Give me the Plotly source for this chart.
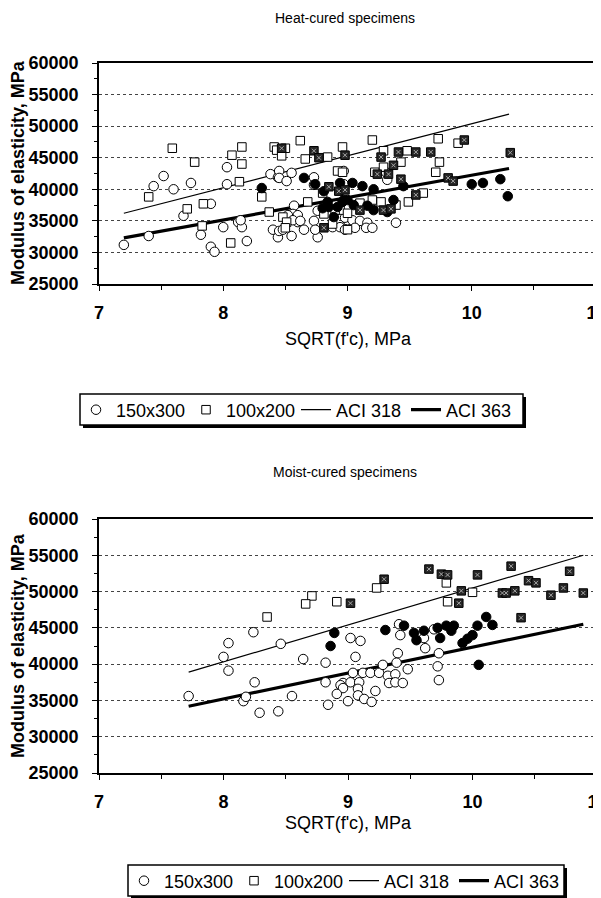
import plotly.graph_objects as go

# ---------------- data ----------------
# Heat-cured specimens
heat_150_open_x = [7.20, 7.40, 7.44, 7.52, 7.60, 7.68, 7.74, 7.82, 7.90, 7.90, 7.93, 8.00, 8.03, 8.03,
                   8.12, 8.15, 8.19, 8.14, 8.38, 8.40, 8.44, 8.44, 8.45, 8.45, 8.45, 8.51, 8.55, 8.55,
                   8.57, 8.56, 8.60, 8.60, 8.52, 8.56, 8.62, 8.73, 8.48, 8.65, 8.76, 8.74, 8.88, 8.94,
                   9.00, 8.76, 8.73, 8.73, 8.97, 8.98, 9.04, 9.10, 9.16, 8.98, 9.06, 9.15, 9.20, 9.39,
                   9.32, 9.31, 8.97]
heat_150_open_y = [31200, 32600, 40500, 42100, 40000, 35800, 41000, 32800, 37700, 30900, 30100, 34000, 40800, 43500,
                   34800, 34000, 31800, 35100, 42400, 33600, 32400, 41900, 33400, 42900, 41800, 41300, 42600, 32600,
                   37400, 36100, 34800, 35900, 35900, 35100, 35000, 35000, 33600, 33600, 32400, 33600, 34000, 34000,
                   35100, 36600, 41900, 40700, 42900, 35500, 35100, 35000, 34700, 33600, 33900, 33900, 33900, 34700,
                   41500, 42700, 40800]

heat_150_fill_x = [8.31, 8.65, 8.74, 8.81, 8.85, 8.96, 9.00, 8.92, 8.84, 8.89, 8.80, 9.04, 9.12, 9.21,
                   9.37, 9.45, 8.97, 9.05, 9.16, 9.21, 9.32, 10.00, 10.09, 10.23, 10.29, 8.94]
heat_150_fill_y = [40200, 41800, 40800, 39700, 37200, 38000, 38300, 37200, 38000, 35600, 37000, 41000, 40500, 40000,
                   38300, 40500, 38300, 37500, 37400, 36700, 36400, 40800, 41000, 41600, 38900, 41000]

heat_100_open_x = [7.59, 7.40, 7.77, 7.71, 7.84, 7.83, 8.07, 8.15, 8.15, 8.13, 8.06, 8.31, 8.37, 8.41,
                   8.43, 8.50, 8.47, 8.48, 8.51, 8.62, 8.66, 8.84, 8.96, 8.92, 8.80, 8.94, 9.00, 8.90,
                   8.68, 8.81, 8.50, 8.88, 9.00, 9.20, 9.29, 9.73, 9.89, 9.74, 9.71, 9.48, 9.43, 9.22,
                   9.61, 9.49, 9.20, 9.27, 8.96, 9.29, 9.10, 9.39]
heat_100_open_y = [46500, 38800, 44300, 36900, 37700, 34200, 45400, 46700, 44000, 41200, 31500, 38800, 36400, 46700,
                   46200, 46500, 45300, 35600, 34800, 47700, 44800, 45100, 46700, 42900, 39400, 36700, 36200, 36700,
                   38000, 36100, 33900, 34500, 33600, 47800, 46100, 48000, 47300, 44300, 42700, 46100, 44300, 42700,
                   39400, 38000, 38300, 38000, 42700, 43500, 37800, 37500]

heat_100_hatch_x = [8.47, 8.73, 8.98, 8.77, 8.85, 8.93, 8.81, 9.94, 9.41, 9.55, 9.67, 9.27, 9.37, 9.24,
                    9.33, 9.43, 9.81, 9.85, 8.98, 9.55, 9.29, 9.35, 9.10, 10.31]
heat_100_hatch_y = [46500, 46100, 45400, 45000, 40400, 39700, 33900, 47800, 45900, 45900, 45900, 45100, 43800, 42400,
                    42400, 41600, 41800, 41300, 39900, 39100, 36700, 36900, 36700, 45800]

heat_aci318_x = [7.20, 10.30]
heat_aci318_y = [36200, 51900]
heat_aci363_x = [7.20, 10.30]
heat_aci363_y = [32300, 43300]

# Moist-cured specimens
moist_150_open_x = [7.72, 8.00, 8.04, 8.04, 8.24, 8.25, 8.16, 8.18, 8.29, 8.44, 8.46, 8.55, 9.41, 9.42,
                    9.02, 9.10, 9.61, 9.69, 9.62, 9.73, 9.72, 9.73, 9.40, 9.39, 9.06, 8.82, 8.64, 8.82,
                    8.96, 9.02, 9.09, 9.04, 9.12, 9.18, 9.25, 9.32, 9.38, 9.33, 9.38, 9.44, 9.48, 9.28,
                    8.94, 8.96, 9.08, 8.91, 9.08, 9.22, 8.84, 9.00, 9.13, 9.19]
moist_150_open_y = [35600, 41000, 42900, 39100, 44400, 37500, 34900, 35500, 33300, 33500, 42800, 35600, 45500, 44000,
                    43600, 43200, 43600, 44800, 42200, 41500, 39700, 37800, 41500, 40200, 41000, 40200, 40700, 37500,
                    37400, 37500, 37500, 38800, 38800, 38800, 38800, 38400, 38600, 37400, 37500, 37400, 39300, 39900,
                    37100, 36700, 36600, 35900, 35700, 36300, 34400, 34900, 35200, 34800]

moist_150_fill_x = [8.89, 8.86, 9.30, 9.45, 9.53, 9.55, 9.61, 9.72, 9.74, 9.79, 9.83, 9.85, 9.92, 9.96,
                    10.00, 10.04, 10.11, 10.16, 10.05]
moist_150_fill_y = [44300, 42500, 44700, 45300, 44300, 43300, 44600, 45000, 43600, 45300, 44600, 45300, 42900, 43500,
                    44000, 45300, 46500, 45400, 39900]

moist_100_open_x = [8.35, 8.71, 8.66, 8.91, 9.23, 9.79, 9.80, 10.00]
moist_100_open_y = [46500, 49400, 48300, 48600, 50500, 51200, 48600, 49900]

moist_100_hatch_x = [9.02, 9.29, 9.65, 9.75, 9.80, 10.04, 10.31, 10.45, 10.51, 10.78, 9.91, 9.89, 10.24, 10.27,
                     10.34, 10.63, 10.73, 10.89, 10.39]
moist_100_hatch_y = [48400, 51700, 53100, 52400, 52300, 52300, 53500, 51500, 51200, 52800, 50100, 48400, 49800, 49800,
                     50100, 49500, 50500, 49800, 46400]

moist_aci318_x = [7.72, 10.89]
moist_aci318_y = [38900, 55000]
moist_aci363_x = [7.72, 10.89]
moist_aci363_y = [34200, 45500]

x_range = [7, 11]
y_range = [25000, 60000]
titles = ["Heat-cured specimens", "Moist-cured specimens"]
x_title = "SQRT(f'c), MPa"
y_title = "Modulus of elasticity, MPa"
legend_names = ["150x300", "100x200", "ACI 318", "ACI 363"]

# ---------------- layout helpers ----------------
# the page body has a default 8px margin, so the figure sits 8px in from the top-left
OFF = 8
W, H = 601 - OFF, 898 - OFF
def px(x):
    return (x - OFF) / W
def py(y):
    return 1 - (y - OFF) / H

FONT = "Liberation Sans, Arial, sans-serif"

fig = go.Figure()

panels = [
    dict(xa="x", ya="y", leg="legend",
         o150=(heat_150_open_x, heat_150_open_y), f150=(heat_150_fill_x, heat_150_fill_y),
         o100=(heat_100_open_x, heat_100_open_y), h100=(heat_100_hatch_x, heat_100_hatch_y),
         l318=(heat_aci318_x, heat_aci318_y), l363=(heat_aci363_x, heat_aci363_y)),
    dict(xa="x2", ya="y2", leg="legend2",
         o150=(moist_150_open_x, moist_150_open_y), f150=(moist_150_fill_x, moist_150_fill_y),
         o100=(moist_100_open_x, moist_100_open_y), h100=(moist_100_hatch_x, moist_100_hatch_y),
         l318=(moist_aci318_x, moist_aci318_y), l363=(moist_aci363_x, moist_aci363_y)),
]

for p in panels:
    common = dict(xaxis=p["xa"], yaxis=p["ya"], legend=p["leg"])
    fig.add_trace(go.Scatter(x=p["l318"][0], y=p["l318"][1], mode="lines", name=legend_names[2],
                             line=dict(color="black", width=1.2), legendrank=3, **common))
    fig.add_trace(go.Scatter(x=p["l363"][0], y=p["l363"][1], mode="lines", name=legend_names[3],
                             line=dict(color="black", width=3.2), legendrank=4, **common))
    fig.add_trace(go.Scatter(x=p["o150"][0], y=p["o150"][1], mode="markers", name=legend_names[0],
                             marker=dict(symbol="circle", size=9.5, color="white",
                                         line=dict(color="black", width=1)), legendrank=1, **common))
    fig.add_trace(go.Scatter(x=p["o100"][0], y=p["o100"][1], mode="markers", name=legend_names[1],
                             marker=dict(symbol="square", size=8.5, color="white",
                                         line=dict(color="black", width=1)), legendrank=2, **common))
    fig.add_trace(go.Scatter(x=p["f150"][0], y=p["f150"][1], mode="markers", showlegend=False,
                             marker=dict(symbol="circle", size=9.5, color="black",
                                         line=dict(color="black", width=1)), **common))
    fig.add_trace(go.Scatter(x=p["h100"][0], y=p["h100"][1], mode="markers", showlegend=False,
                             marker=dict(symbol="square", size=8.5, color="#262626",
                                         line=dict(color="black", width=1)), **common))
    fig.add_trace(go.Scatter(x=p["h100"][0], y=p["h100"][1], mode="markers", showlegend=False,
                             hoverinfo="skip",
                             marker=dict(symbol="x-thin", size=4, color="#a8a8a8",
                                         line=dict(color="#a8a8a8", width=1)), **common))

tickfont = dict(family=FONT, size=18, color="black", weight="bold")

def xaxis(domain, anchor):
    return dict(domain=domain, anchor=anchor, range=x_range, dtick=1, tick0=7,
                showline=True, linecolor="black", linewidth=1.5, mirror=True,
                ticks="outside", ticklen=5, tickwidth=1, tickcolor="black",
                minor=dict(dtick=0.5, ticks="outside", ticklen=4, tickcolor="black", showgrid=False),
                showgrid=False, zeroline=False, tickfont=tickfont, ticklabelstandoff=7,
                ticklabeloverflow="allow", automargin=False, fixedrange=True)

def yaxis(domain, anchor):
    return dict(domain=domain, anchor=anchor, range=y_range, dtick=5000, tick0=25000,
                tickformat="d", showline=True, linecolor="black", linewidth=1.5, mirror=True,
                ticks="outside", ticklen=5, tickwidth=1, tickcolor="black",
                minor=dict(dtick=2500, ticks="outside", ticklen=3, tickcolor="black", showgrid=False),
                showgrid=True, gridcolor="#444444", griddash="dot", gridwidth=1,
                zeroline=False, tickfont=tickfont, ticklabelstandoff=10,
                ticklabeloverflow="allow", automargin=False, fixedrange=True)

legend_style = dict(orientation="h", xanchor="left", yanchor="middle",
                    bgcolor="rgba(0,0,0,0)", borderwidth=0,
                    font=dict(family=FONT, size=18, color="black"), itemwidth=30,
                    entrywidth=65, entrywidthmode="pixels",
                    traceorder="normal")

annotations = []
for title, ty in zip(titles, [18, 472]):
    annotations.append(dict(text=title, x=px(345), y=py(ty), xref="paper", yref="paper",
                            showarrow=False, xanchor="center", yanchor="middle",
                            font=dict(family=FONT, size=14, color="black")))
for cy in [173, 646]:
    annotations.append(dict(text=y_title, x=px(18), y=py(cy), xref="paper", yref="paper",
                            showarrow=False, textangle=-90, xanchor="center", yanchor="middle",
                            font=dict(family=FONT, size=18, color="black", weight="bold")))
for cy in [339, 823]:
    annotations.append(dict(text=x_title, x=px(348), y=py(cy), xref="paper", yref="paper",
                            showarrow=False, xanchor="center", yanchor="middle",
                            font=dict(family=FONT, size=18, color="black")))

# legend frames (box with an Excel-style drop shadow)
shapes = []
for (x0, y0, x1, y1) in [(80, 394, 523, 425), (128, 865, 564, 896)]:
    shapes.append(dict(type="rect", xref="paper", yref="paper", layer="below",
                       x0=px(x0 + 3), x1=px(x1 + 3), y0=py(y1 + 3), y1=py(y0 + 3),
                       fillcolor="black", line=dict(width=0)))
    shapes.append(dict(type="rect", xref="paper", yref="paper", layer="below",
                       x0=px(x0), x1=px(x1), y0=py(y1), y1=py(y0),
                       fillcolor="white", line=dict(color="black", width=1.5)))

fig.update_layout(
    width=W, height=H, autosize=False,
    margin=dict(l=0, r=0, t=0, b=0, pad=0, autoexpand=False),
    paper_bgcolor="white", plot_bgcolor="white",
    showlegend=True,
    xaxis=xaxis([px(99), px(596)], "y"),
    yaxis=yaxis([py(284), py(63)], "x"),
    xaxis2=xaxis([px(99), px(597)], "y2"),
    yaxis2=yaxis([py(773), py(519)], "x2"),
    legend=dict(x=px(76), y=py(410), **legend_style),
    legend2=dict(x=px(124), y=py(881), **legend_style),
    annotations=annotations,
    shapes=shapes,
)

fig.write_html("out.html")
